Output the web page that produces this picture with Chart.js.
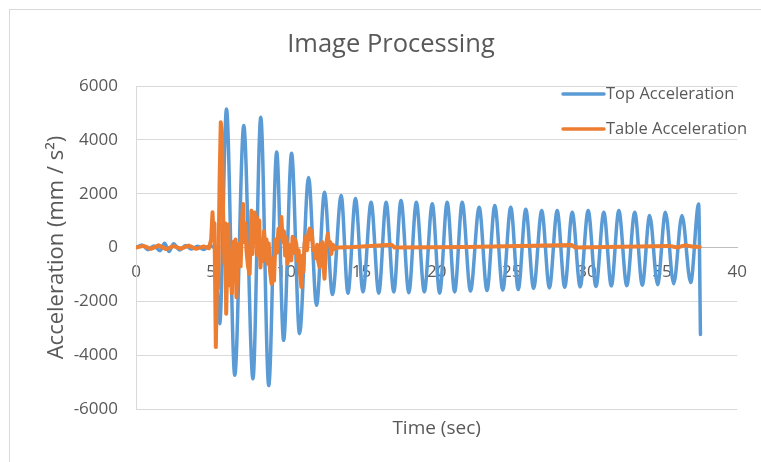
<!DOCTYPE html>
<html>
<head>
<meta charset="utf-8">
<title>Image Processing</title>
<script src="https://cdn.jsdelivr.net/npm/chart.js@4.4.1/dist/chart.umd.min.js"></script>
<style>
    body { margin: 0; background: #fff; }
    #wrap { position: relative; width: 761px; height: 462px; overflow: hidden; }
    #frame { position: absolute; left: 9px; top: 9px; width: 800px; height: 500px; border: 1px solid #d9d9d9; }
    #accelChart { position: absolute; left: 0; top: 0; }
</style>
</head>
<body>
<div id="wrap">
    <div id="frame"></div>
    <canvas id="accelChart" width="761" height="462"></canvas>
</div>
<script>
// Top sensor: quiet start, hit at ~5.5 s, then a slowly decaying ~1 Hz ring-down
const topTime = [
    0.0, 0.4, 0.8, 1.2, 1.6, 1.9, 2.2, 2.5, 2.9, 3.3, 3.7, 4.1, 4.5, 4.9, 5.25,
    5.57, 6.02, 6.57, 7.17, 7.78, 8.30, 8.83, 9.36, 9.82, 10.35, 10.88, 11.48, 12.01, 12.54, 13.07,
    13.65, 14.10, 14.60, 15.10, 15.64, 16.15, 16.64, 17.15, 17.63, 18.15, 18.65, 19.18, 19.71, 20.20,
    20.70, 21.20, 21.70, 22.25, 22.83, 23.35, 23.87, 24.40, 24.93, 25.43, 25.93, 26.45, 26.99, 27.50,
    28.02, 28.52, 29.02, 29.55, 30.08, 30.60, 31.12, 31.62, 32.12, 32.65, 33.18, 33.68, 34.17, 34.70,
    35.22, 35.77, 36.32, 36.90, 37.43, 37.55
];
const topAccel = [
    0, 90, -80, 60, -120, 160, -150, 140, -90, 70, -60, 50, -70, 60, -40,
    -2830, 5150, -4750, 4530, -4880, 4840, -5130, 3550, -3450, 3500, -3200, 2600, -2150, 2050, -1750,
    1930, -1700, 1820, -1650, 1680, -1700, 1680, -1650, 1750, -1680, 1680, -1650, 1630, -1700,
    1680, -1650, 1680, -1620, 1500, -1600, 1560, -1580, 1500, -1560, 1420, -1520, 1370, -1500,
    1370, -1480, 1310, -1460, 1370, -1450, 1310, -1430, 1370, -1420, 1310, -1400, 1190, -1380,
    1310, -1350, 1190, -1300, 1620, -3230
];

// Table sensor: jagged burst between ~5 s and ~13 s, near zero elsewhere
const tableTime = [
    0.0, 0.5, 1.0, 1.5, 2.0, 2.5, 3.0, 3.5, 4.0, 4.5, 4.85,
    5.00, 5.09, 5.16, 5.22, 5.31, 5.40, 5.47, 5.56, 5.64, 5.72, 5.80, 5.88, 5.94, 6.00,
    6.08, 6.14, 6.22, 6.30, 6.38, 6.46, 6.55, 6.62, 6.68, 6.78, 6.88, 6.96, 7.05, 7.12,
    7.20, 7.28, 7.35, 7.45, 7.56, 7.62, 7.68, 7.75, 7.82, 7.90, 7.98, 8.05, 8.12, 8.20,
    8.28, 8.36, 8.44, 8.52, 8.60, 8.68, 8.76, 8.83, 8.92, 9.02, 9.10, 9.18, 9.28, 9.38,
    9.48, 9.58, 9.67, 9.76, 9.84, 9.92, 10.00, 10.08, 10.16, 10.25, 10.33, 10.42, 10.50, 10.58,
    10.66, 10.74, 10.82, 10.90, 11.00, 11.08, 11.14, 11.21, 11.30, 11.38, 11.46, 11.55, 11.62, 11.70,
    11.78, 11.88, 11.96, 12.05, 12.12, 12.21, 12.30, 12.40, 12.47, 12.54, 12.62, 12.70, 12.76, 12.84,
    12.92, 12.99, 13.10, 13.20, 13.42,
    14.5, 17.0, 17.2, 22.0, 29.0, 29.2, 35.5, 36.0, 36.5, 37.0, 37.5
];
const tableAccel = [
    0, 60, -50, 80, -60, 50, -40, 70, -50, 40, -30,
    300, 1310, 400, 900, -3700, -800, -1500, 2500, 4650, 4200, 1200, -600, 900, -2460,
    -300, 850, -1400, -200, -1700, 200, -900, 300, -1850, -400, 150, -700, 900, 1620,
    200, 900, -110, -700, -980, 300, 1370, -240, 500, 1300, 200, 1120, -300, 1000,
    -740, 200, -500, 600, -200, 300, -600, 150, -900, -1350, -400, -1230, 300, -200,
    700, 400, 1130, 200, 600, -300, 380, -600, 100, -300, -480, 400, -200, 300,
    140, -500, -100, -900, -1470, -300, -900, 140, 400, -100, 500, 700, 300, 600,
    -100, 0, -400, 100, -500, -730, 0, 200, -600, -1160, -200, 300, 510, 100,
    200, -240, 100, -50, 0,
    20, 100, 0, 20, 90, 0, 60, 0, 80, 40, 20
];

const timeTicks = [0, 5, 10, 15, 20, 25, 30, 35, 40];
const accelTicks = [-6000, -4000, -2000, 0, 2000, 4000, 6000];

const textColor = "#595959";
const fontFamily = "'Open Sans', 'Noto Sans', sans-serif";

function toPoints(xs, ys) {
    return xs.map((x, i) => ({ x: x, y: ys[i] }));
}

// Excel-style legend sitting inside the plot area, top right
const sideLegend = {
    id: "sideLegend",
    afterDatasetsDraw(chart) {
        const ctx = chart.ctx;
        const rows = [94, 129];
        ctx.save();
        chart.data.datasets.forEach((ds, i) => {
            const y = rows[i];
            ctx.strokeStyle = ds.borderColor;
            ctx.lineWidth = 3.5;
            ctx.lineCap = "round";
            ctx.beginPath();
            ctx.moveTo(563, y);
            ctx.lineTo(604, y);
            ctx.stroke();
            ctx.fillStyle = textColor;
            ctx.font = "16.5px " + fontFamily;
            ctx.textAlign = "left";
            ctx.textBaseline = "middle";
            ctx.fillText(ds.label, 606, y);
        });
        ctx.restore();
    }
};

const ctx = document.getElementById("accelChart").getContext("2d");

const accelChart = new Chart(ctx, {
    type: "line",
    data: {
        datasets: [
            {
                label: "Top Acceleration",
                data: toPoints(topTime, topAccel),
                borderColor: "#5B9BD5",
                borderWidth: 3.5,
                cubicInterpolationMode: "monotone",
                order: 2
            },
            {
                label: "Table Acceleration",
                data: toPoints(tableTime, tableAccel),
                borderColor: "#ED7D31",
                borderWidth: 4,
                tension: 0,
                order: 1
            }
        ]
    },
    options: {
        responsive: false,
        animation: false,
        devicePixelRatio: 1,
        layout: { padding: { left: 44, right: 23, top: 0, bottom: 0 } },
        elements: {
            point: { radius: 0 },
            line: {
                borderCapStyle: "round",
                borderJoinStyle: "round",
                fill: false
            }
        },
        plugins: {
            legend: { display: false },
            tooltip: { enabled: false },
            title: {
                display: true,
                text: "Image Processing",
                color: textColor,
                font: { family: fontFamily, size: 25.5, weight: "normal" },
                padding: { top: 29, bottom: 26.4 }
            }
        },
        scales: {
            x: {
                type: "linear",
                position: { y: 0 },
                min: 0,
                max: 40,
                afterBuildTicks: axis => { axis.ticks = timeTicks.map(v => ({ value: v })); },
                grid: { display: false, drawTicks: false },
                border: { display: true, color: "#bfbfbf", width: 1 },
                ticks: {
                    color: textColor,
                    padding: 14,
                    maxRotation: 0,
                    callback: v => String(v),
                    font: { family: fontFamily, size: 17 }
                }
            },
            xTitle: {
                type: "linear",
                axis: "x",
                position: "bottom",
                min: 0,
                max: 40,
                grid: { display: false, drawTicks: false },
                border: { display: false },
                ticks: { display: false },
                title: {
                    display: true,
                    text: "Time (sec)",
                    color: textColor,
                    font: { family: fontFamily, size: 19 },
                    padding: { top: 0, bottom: 22 }
                },
                afterFit: scale => { scale.height = 53; }
            },
            y: {
                min: -6000,
                max: 6000,
                afterBuildTicks: axis => { axis.ticks = accelTicks.map(v => ({ value: v })); },
                grid: { color: "#d9d9d9", lineWidth: 1, drawTicks: false },
                border: { display: true, color: "#d9d9d9", width: 1 },
                ticks: {
                    color: textColor,
                    padding: 18,
                    callback: v => String(v),
                    font: { family: fontFamily, size: 17 }
                },
                title: {
                    display: true,
                    text: "Acceleration (mm / s²)",
                    color: textColor,
                    font: { family: fontFamily, size: 22 },
                    padding: { top: 0, bottom: 0 }
                },
                afterFit: scale => { scale.width = 92; }
            }
        }
    },
    plugins: [sideLegend]
});
</script>
</body>
</html>
